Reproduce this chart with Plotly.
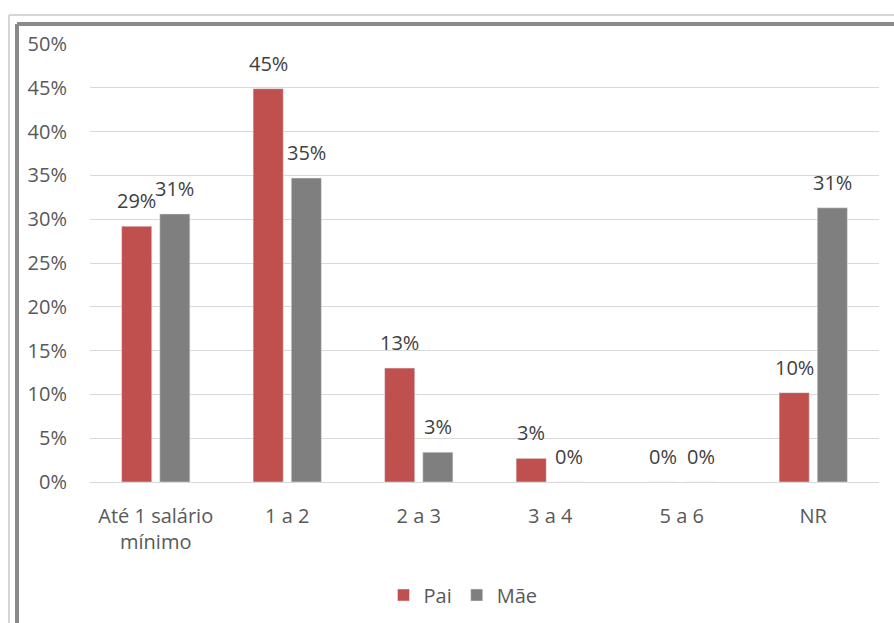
import plotly.graph_objects as go

# Renda familiar (salários mínimos) – percentual por responsável
categorias = ["Até 1 salário<br>mínimo", "1 a 2", "2 a 3", "3 a 4", "5 a 6", "NR"]
pai = [29.2, 44.9, 13.0, 2.7, 0.0, 10.2]
mae = [30.6, 34.7, 3.4, 0.0, 0.0, 31.3]
ticks_y = [0, 5, 10, 15, 20, 25, 30, 35, 40, 45, 50]

COR_PAI = "#C0504D"
COR_MAE = "#7F7F7F"
TEXTO = "#595959"
FONTE = "Open Sans"

W, H = 894, 623
L, R, T, B = 90, 15, 44, 141
pw, ph = W - L - R, H - T - B


def px(x):
    return (x - L) / pw


def py(y):
    return (H - B - y) / ph


fig = go.Figure()
fig.add_trace(go.Bar(name="Pai", x=categorias, y=pai, marker_color=COR_PAI))
fig.add_trace(go.Bar(name="Mãe", x=categorias, y=mae, marker_color=COR_MAE))

# rótulos de valor sobre cada barra
anots = []
for serie, desloc in ((pai, -19), (mae, 19)):
    for cat, v in zip(categorias, serie):
        anots.append(dict(
            x=cat, y=v, xref="x", yref="y", text=f"{round(v)}%",
            showarrow=False, xshift=desloc, yshift=10, yanchor="bottom",
            font=dict(family=FONTE, size=20, color="#404040"),
        ))

# moldura do gráfico (linha clara externa e linha escura interna)
formas = [
    dict(type="line", xref="paper", yref="paper", x0=px(9), x1=px(900),
         y0=py(15), y1=py(15), line=dict(color="#D6D6D6", width=2)),
    dict(type="line", xref="paper", yref="paper", x0=px(9), x1=px(9),
         y0=py(15), y1=py(630), line=dict(color="#D6D6D6", width=2)),
    dict(type="line", xref="paper", yref="paper", x0=px(17), x1=px(900),
         y0=py(24), y1=py(24), line=dict(color="#8A8A8A", width=4)),
    dict(type="line", xref="paper", yref="paper", x0=px(17), x1=px(17),
         y0=py(24), y1=py(630), line=dict(color="#8A8A8A", width=4)),
]

fig.update_layout(
    width=W, height=H,
    margin=dict(l=L, r=R, t=T, b=B, autoexpand=False),
    paper_bgcolor="white", plot_bgcolor="white",
    barmode="group", bargap=0.42, bargroupgap=0.21,
    font=dict(family=FONTE, size=20, color=TEXTO),
    showlegend=True,
    legend=dict(orientation="h", x=px(463), xanchor="center",
                y=py(595), yanchor="middle",
                font=dict(family=FONTE, size=20, color=TEXTO),
                itemwidth=30, tracegroupgap=0),
    annotations=anots,
    shapes=formas,
)
fig.update_yaxes(
    range=[0, 50], tickvals=ticks_y, ticktext=[f"{t}%" for t in ticks_y],
    showgrid=True, gridcolor="#D9D9D9", gridwidth=1,
    zeroline=False, showline=False, ticks="", ticklabelstandoff=22,
    automargin=False,
    tickfont=dict(family=FONTE, size=20, color=TEXTO),
)
fig.update_xaxes(
    showline=True, linecolor="#D9D9D9", linewidth=1, ticks="",
    ticklabelstandoff=16, automargin=False,
    tickfont=dict(family=FONTE, size=20, color=TEXTO),
)

fig.write_html("out.html")
